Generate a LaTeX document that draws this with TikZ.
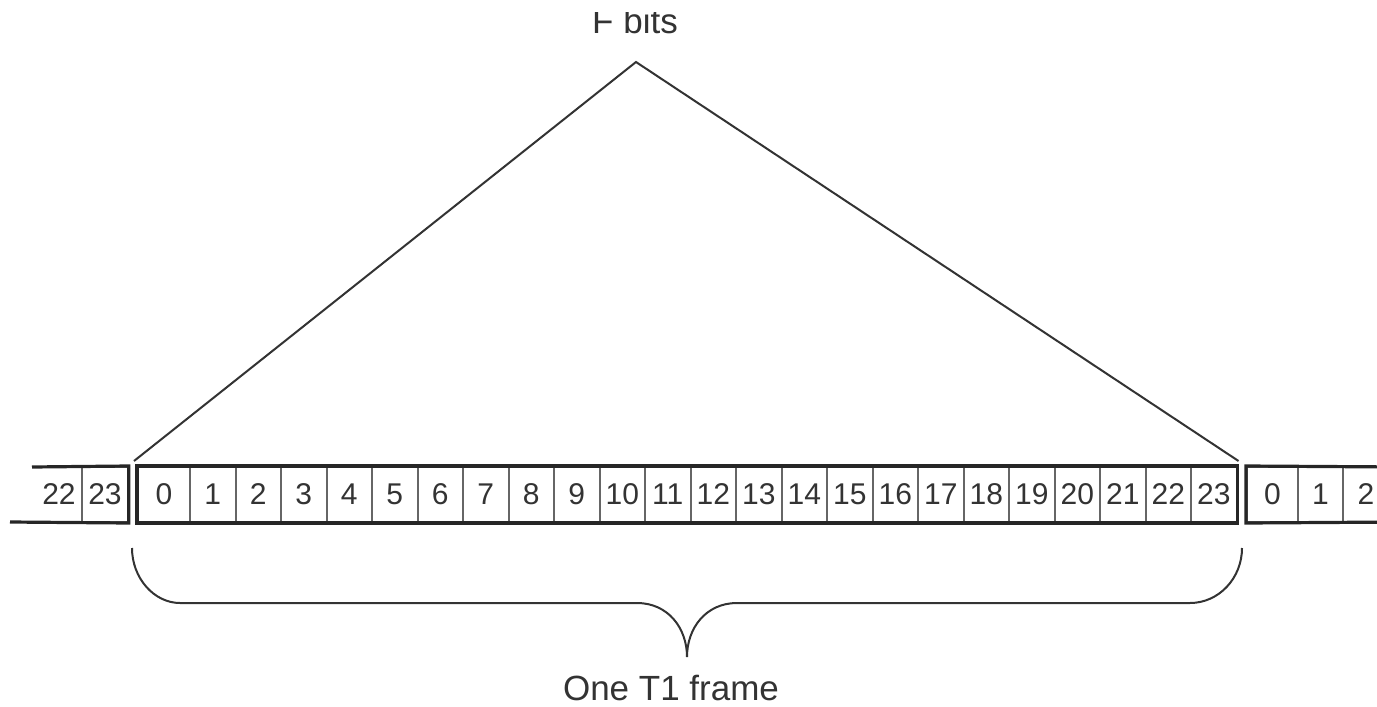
\documentclass[tikz,border=0pt]{standalone}
\usepackage{fontspec}
\setmainfont{Liberation Sans}
\usetikzlibrary{positioning}

\begin{document}
\begin{tikzpicture}[
  x=0.5pt, y=-0.5pt,
  bitcell/.style={rectangle, draw=black!60, line width=1pt, inner sep=0pt, minimum height=27.5pt, minimum width=22.75pt, font=\fontsize{15}{15}\selectfont, text=black!80},
  frame_edge/.style={line width=1.6pt, draw=black!85},
  thin_line/.style={line width=1pt, draw=black!80},
  label/.style={font=\fontsize{17.5}{18}\selectfont, text=black!80, inner sep=0pt}
]
  \useasboundingbox (0,0) rectangle (1377,707);

  % --- trama anterior (cortada a la izquierda) ---
  \node[inner sep=0pt, font=\fontsize{15}{15}\selectfont, text=black!80] (p22) at (59,494.5) {22};
  \node[bitcell] (p23) at (105,494.5) {23};
  \coordinate (ltop) at (32,467);
  \coordinate (lbot) at (10,522);
  \draw[frame_edge] (ltop) -- (p23.north east) -- (p23.south east) -- (lbot);

  % --- trama T1 (24 casillas) ---
  \node[bitcell, minimum width=26pt] (c0) at (164,494.5) {0};
  \foreach \i in {1,...,23}{
    \node[bitcell] (c\i) at ({190+(\i-1)*45.5+22.75},494.5) {\i};
  }
  \draw[frame_edge] (c0.north west) rectangle (c23.south east);

  % --- trama siguiente (cortada a la derecha) ---
  \node[bitcell, minimum width=25.5pt] (q0) at (1272.5,494.5) {0};
  \node[bitcell, minimum width=22.5pt] (q1) at (1320.5,494.5) {1};
  \node[bitcell] (q2) at (1366,494.5) {2};
  \coordinate (rtop) at (1400,467);
  \coordinate (rbot) at (1400,522);
  \draw[frame_edge] (rtop) -- (q0.north west) -- (q0.south west) -- (rbot);

  % Bits F (triangulo)
  \coordinate (apex) at (636,62);
  \draw[thin_line] ([shift={(-3,-5)}]c0.north west) -- (apex) -- ([shift={(1,-5)}]c23.north east);
  \begin{scope}
    \clip (0,12) rectangle (1377,707);
    \node[label, anchor=base] (fbits) at (635,33) {F bits};
  \end{scope}

  % Llave bajo la trama
  \coordinate (bl) at (132,548);
  \coordinate (br) at (1242,548);
  \coordinate (tip) at (687,657);
  \draw[thin_line] (bl) .. controls (132,578) and (154,603) .. (180,603) -- (637,603)
    .. controls (668,603) and (687,628) .. (tip)
    .. controls (687,628) and (706,603) .. (737,603) -- (1190,603)
    .. controls (1219,603) and (1242,578) .. (br);

  % Etiqueta
  \node[label, anchor=base] (frame) at (671,700) {One T1 frame};
\end{tikzpicture}
\end{document}
